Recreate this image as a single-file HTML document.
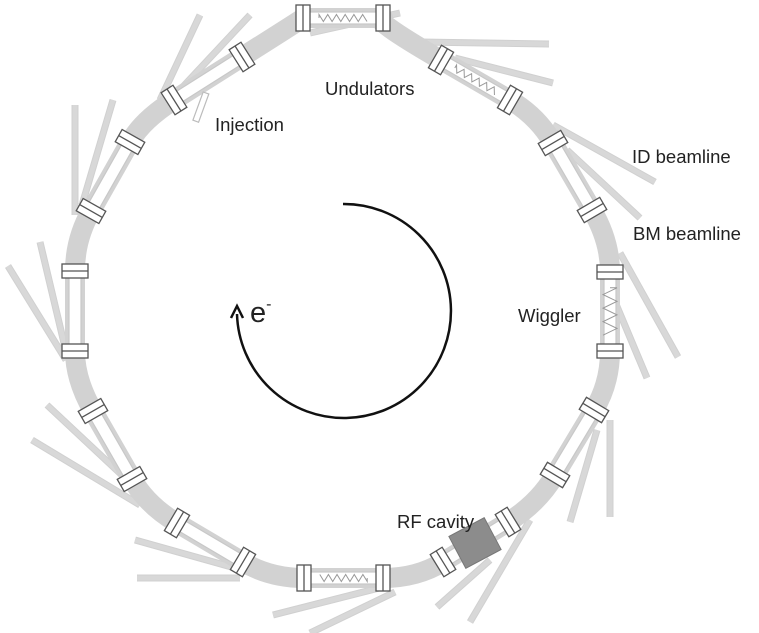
<!DOCTYPE html>
<html><head><meta charset="utf-8"><style>
html,body{margin:0;padding:0;background:#fff;}
svg{display:block;}
text{font-family:"Liberation Sans",sans-serif;fill:#222;}
</style></head><body>
<svg id="s" width="759" height="633" viewBox="0 0 759 633">
<g id="beamlines"></g>
<g id="ring"></g>
<g id="straights"></g>
<g id="devices"></g>
<g id="magnets"></g>
<rect x="-3" y="0" width="6" height="30" fill="#fff" stroke="#bbb" stroke-width="1.2" transform="translate(206,93) rotate(20)"/>
<rect x="-20" y="-18" width="40" height="36" fill="#8c8c8c" stroke="#777" transform="translate(475,543) rotate(-28)"/>
<path d="M343,204 A107,107 0 1 1 237,314" fill="none" stroke="#111" stroke-width="2.5"/>
<path d="M231,318 L237,306 L243,318" fill="none" stroke="#111" stroke-width="2.5"/>
<text x="250" y="322" font-size="29">e<tspan font-size="16" dy="-13">-</tspan></text>
<text x="325" y="95" font-size="18.5">Undulators</text>
<text x="215" y="131" font-size="18.5">Injection</text>
<text x="632" y="163" font-size="18.5">ID beamline</text>
<text x="633" y="240" font-size="18.5">BM beamline</text>
<text x="518" y="322" font-size="18.5">Wiggler</text>
<text x="397" y="528" font-size="18.5">RF cavity</text>
</svg>
<script>
const sections=[[[303,18],[383,18]],[[441,60],[510,100]],[[553,143],[592,210]],[[610,272],[610,351]],[[594,410],[555,475]],[[508,522],[443,562]],[[383,578],[304,578]],[[243,562],[177,523]],[[132,479],[93,411]],[[75,351],[75,271]],[[91,211],[130,142]],[[174,100],[242,57]]];
const beamlines=[[200,15,160,100],[250,15,178,92],[75,105,75,215],[113,100,82,205],[40,242,68,360],[8,266,66,360],[47,405,125,478],[32,440,140,505],[135,540,235,568],[137,578,240,578],[273,615,383,587],[310,633,395,592],[437,607,490,560],[470,622,530,520],[570,522,597,430],[610,517,610,420],[678,357,620,253],[647,378,608,285],[655,182,553,125],[640,218,567,150],[549,44,420,42],[553,83,455,58],[400,13,310,33]];
const NS='http://www.w3.org/2000/svg';
function mk(t,a,p){const e=document.createElementNS(NS,t);for(const k in a)e.setAttribute(k,a[k]);p.appendChild(e);return e;}
const bg=document.getElementById('beamlines');
beamlines.forEach(b=>{const l=mk('line',{x1:b[0],y1:b[1],x2:b[2],y2:b[3],stroke:'#d0d0d0','stroke-width':7},bg);


const l2=mk('line',{x1:b[0],y1:b[1],x2:b[2],y2:b[3],stroke:'#d8d8d8','stroke-width':5},bg);

});
function inter(p1,p2,p3,p4){const d1x=p2[0]-p1[0],d1y=p2[1]-p1[1],d2x=p4[0]-p3[0],d2y=p4[1]-p3[1];const den=d1x*d2y-d1y*d2x;if(Math.abs(den)<1e-6)return[(p2[0]+p3[0])/2,(p2[1]+p3[1])/2];const t=((p3[0]-p1[0])*d2y-(p3[1]-p1[1])*d2x)/den;return[p1[0]+t*d1x,p1[1]+t*d1y];}
let d='';const n=sections.length;
for(let k=0;k<n;k++){const s=sections[k],t=sections[(k+1)%n];const c=inter(s[0],s[1],t[0],t[1]);
d+=(k===0?'M'+s[0]:'')+' L'+s[1]+' Q'+c+' '+t[0];}
const ring=mk('path',{d:d+'Z',fill:'none',stroke:'#d2d2d2','stroke-width':20,'stroke-linejoin':'round'},document.getElementById('ring'));


const sg=document.getElementById('straights'),mg=document.getElementById('magnets'),dg=document.getElementById('devices');
sections.forEach((s,k)=>{const a=s[0],b=s[1];const ang=Math.atan2(b[1]-a[1],b[0]-a[0])*180/Math.PI;const len=Math.hypot(b[0]-a[0],b[1]-a[1]);
const g=mk('g',{transform:`translate(${a[0]},${a[1]}) rotate(${ang})`},sg);


mk('rect',{x:0,y:-6,width:len,height:12,fill:'#fff',stroke:'#c8c8c8','stroke-width':1.2},g);
if(k===0||k===1||k===6||k===3){const amp=k===3?7:3.5,nz=k===3?7:11,x0=len*0.2,x1=len*0.8;let p='M'+x0+',0';for(let i=0;i<=nz;i++){const x=x0+(x1-x0)*i/nz;p+=' L'+x+','+(i%2?amp:-amp);}
const w=mk('path',{d:p,fill:'none',stroke:'#999','stroke-width':1,transform:`translate(${a[0]},${a[1]}) rotate(${ang})`},dg);

}
[a,b].forEach(p=>{const m=mk('g',{transform:`translate(${p[0]},${p[1]}) rotate(${ang})`},mg);


mk('rect',{x:-7,y:-13,width:14,height:26,fill:'#fff',stroke:'#555','stroke-width':1.3},m);
mk('line',{x1:0,y1:-13,x2:0,y2:13,stroke:'#555','stroke-width':1.3},m);});});
</script>
</body></html>
